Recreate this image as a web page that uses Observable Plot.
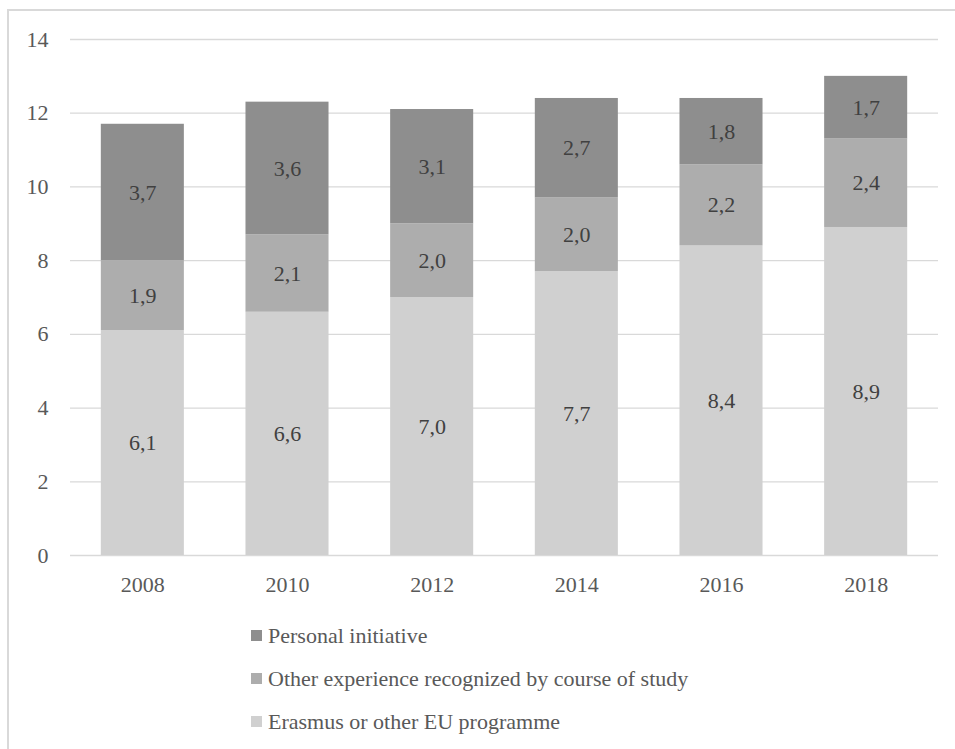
<!DOCTYPE html>
<html>
<head>
<meta charset="utf-8">
<script src="https://cdn.jsdelivr.net/npm/d3@7"></script>
<script src="https://cdn.jsdelivr.net/npm/@observablehq/plot@0.6"></script>
<style>
  html, body { margin: 0; padding: 0; background: #fff; }
  #wrap { position: relative; width: 955px; height: 749px; overflow: hidden; font-family: 'Liberation Serif'; }
  #frame { position: absolute; left: 7px; top: 9px; width: 960px; height: 760px; border-top: 2px solid #d9d9d9; border-left: 2px solid #d9d9d9; box-sizing: border-box; }
  #chart { position: absolute; left: 0; top: 0; }
  #legend { position: absolute; left: 251px; top: 614px; color: #595959; font-size: 22px; font-family: 'Liberation Serif'; }
  .row { display: flex; align-items: center; height: 43px; }
  .sw { width: 11px; height: 11px; margin-right: 6px; }
</style>
</head>
<body>
<div id="wrap">
  <div id="frame"></div>
  <div id="chart"></div>
  <div id="legend"></div>
</div>
<script>
const years = ["2008", "2010", "2012", "2014", "2016", "2018"];
const seriesNames = ["Erasmus or other EU programme", "Other experience recognized by course of study", "Personal initiative"];
const erasmus = [6.1, 6.6, 7.0, 7.7, 8.4, 8.9];
const otherExp = [1.9, 2.1, 2.0, 2.0, 2.2, 2.4];
const personal = [3.7, 3.6, 3.1, 2.7, 1.8, 1.7];
const colors = ["#d0d0d0", "#adadad", "#8e8e8e"];
const yTicks = [0, 2, 4, 6, 8, 10, 12, 14];

const seriesValues = [erasmus, otherExp, personal];
const data = [];
seriesNames.forEach((s, si) => {
  years.forEach((yr, i) => data.push({year: yr, series: s, value: seriesValues[si][i]}));
});

const fmt = v => v.toFixed(1).replace(".", ",");
const FONT = "Liberation Serif";

const chart = Plot.plot({
  width: 955,
  height: 600,
  marginLeft: 70,
  marginRight: 17,
  marginTop: 39,
  marginBottom: 45,
  style: {fontFamily: FONT, fontSize: "22px", color: "#595959", background: "transparent"},
  x: {domain: years, paddingInner: 0.426, paddingOuter: 0.213, round: false, label: null},
  y: {domain: [0, 14], ticks: yTicks, label: null},
  color: {domain: seriesNames, range: colors},
  marks: [
    Plot.gridY(yTicks, {stroke: "#d9d9d9", strokeOpacity: 1, strokeWidth: 1.3}),
    Plot.barY(data, {x: "year", y: "value", fill: "series", order: seriesNames}),
    Plot.text(data, Plot.stackY({x: "year", y: "value", z: "series", order: seriesNames, text: d => fmt(d.value), fill: "#404040", fontSize: 22, fontFamily: FONT})),
    Plot.axisX({tickSize: 0, tickPadding: 21, fontSize: 22, fill: "#595959", fontFamily: FONT}),
    Plot.axisY(yTicks, {tickSize: 0, tickPadding: 22, fontSize: 22, fill: "#595959", fontFamily: FONT})
  ]
});
document.getElementById("chart").appendChild(chart);

const legend = document.getElementById("legend");
[2, 1, 0].forEach(i => {
  const row = document.createElement("div");
  row.className = "row";
  const sw = document.createElement("div");
  sw.className = "sw";
  sw.style.background = colors[i];
  const t = document.createElement("span");
  t.textContent = seriesNames[i];
  row.appendChild(sw);
  row.appendChild(t);
  legend.appendChild(row);
});
</script>
</body>
</html>
